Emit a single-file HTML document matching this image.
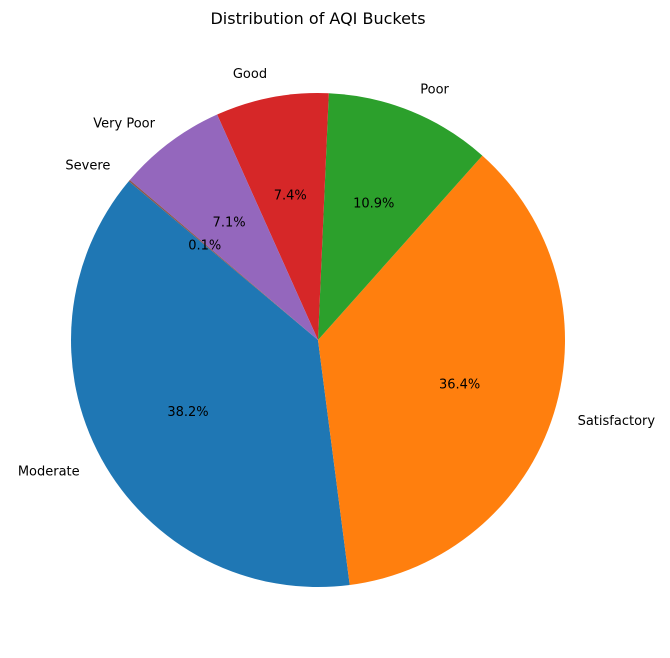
<!DOCTYPE html>
<html><head><meta charset="utf-8"><style>
html,body{margin:0;padding:0;background:#fff;}
svg{display:block;font-family:"DejaVu Sans","Liberation Sans",sans-serif;}
</style></head><body>
<svg id="chart" width="670" height="658" viewBox="0 0 670 658">
<rect width="670" height="658" fill="#fff"/>
<text x="318" y="24" text-anchor="middle" font-size="16" fill="#000">Distribution of AQI Buckets</text>
</svg>
<script>
const categories = ["Moderate","Satisfactory","Poor","Good","Very Poor","Severe"];
const values = [38.2,36.4,10.9,7.4,7.1,0.1];
const colors = ["#1f77b4","#ff7f0e","#2ca02c","#d62728","#9467bd","#8c564b"];
const svg = document.getElementById('chart');
const NS = "http://www.w3.org/2000/svg";
const cx = 318, cy = 340, r = 247, start = 140;
const total = values.reduce((a,b)=>a+b,0);
function pt(deg, rad){const a=deg*Math.PI/180;return [cx+rad*Math.cos(a), cy-rad*Math.sin(a)];}
let ang = start;
values.forEach((v,i)=>{
  const sweep = v/total*360;
  const a0 = ang, a1 = ang+sweep;
  const p0 = pt(a0,r), p1 = pt(a1,r);
  const large = sweep>180?1:0;
  const path = document.createElementNS(NS,'path');
  path.setAttribute('d',`M${cx},${cy} L${p0[0]},${p0[1]} A${r},${r} 0 ${large} 0 ${p1[0]},${p1[1]} Z`);
  path.setAttribute('fill',colors[i]);
  
  
  svg.appendChild(path);
  const mid = (a0+a1)/2;
  const lp = pt(mid, r*1.1);
  const lab = document.createElementNS(NS,'text');
  lab.setAttribute('x',lp[0]);lab.setAttribute('y',lp[1]+5);
  lab.setAttribute('font-size','13');
  lab.setAttribute('text-anchor', Math.cos(mid*Math.PI/180)>=0?'start':'end');
  lab.textContent = categories[i];
  
  
  svg.appendChild(lab);
  const pp = pt(mid, r*0.6);
  const pct = document.createElementNS(NS,'text');
  pct.setAttribute('x',pp[0]);pct.setAttribute('y',pp[1]+5);
  pct.setAttribute('font-size','13');pct.setAttribute('text-anchor','middle');
  pct.textContent = (v/total*100).toFixed(1)+'%';
  
  
  svg.appendChild(pct);
  ang = a1;
});
</script>
</body></html>
